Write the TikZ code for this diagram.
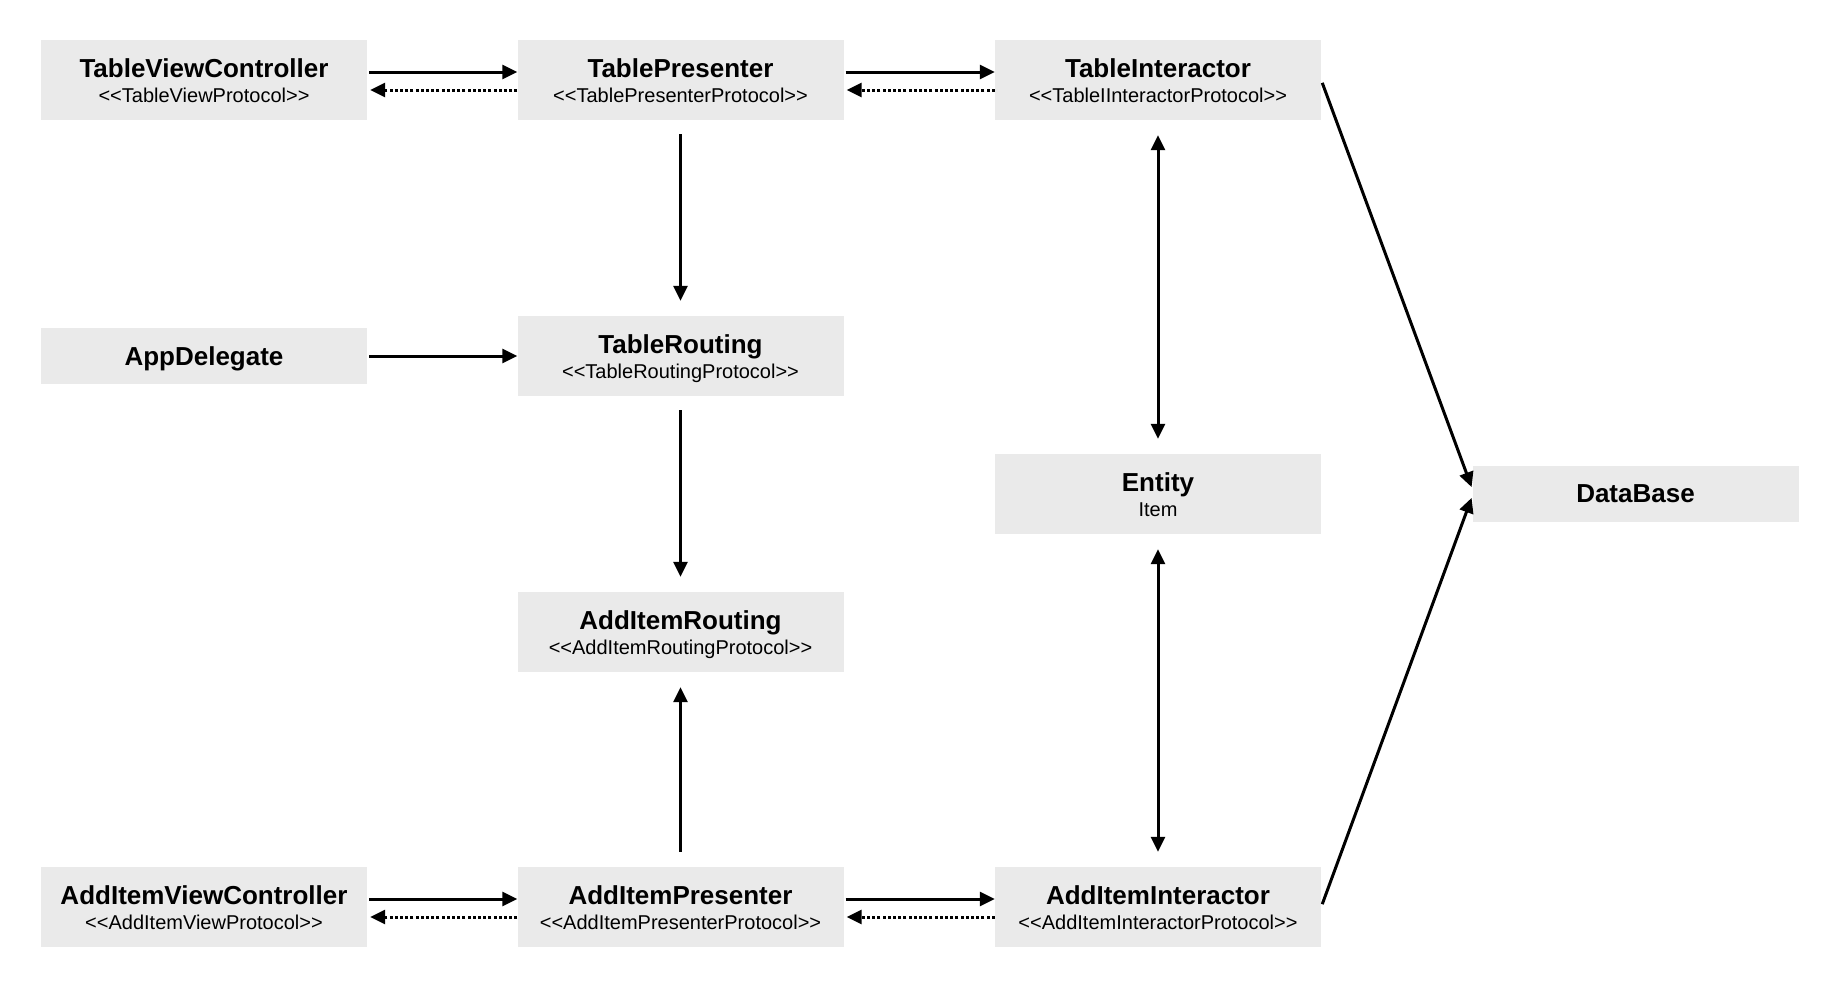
\documentclass[tikz,border=0pt]{standalone}
\usepackage{fontspec}
\setmainfont{Liberation Sans}
\usetikzlibrary{arrows.meta}
\definecolor{boxgray}{HTML}{EAEAEA}
\newcommand{\proto}[1]{<{}<#1>{}>}
\newcommand{\boxtext}[2]{\rule{0pt}{25pt}{\bfseries\fontsize{26}{25}\selectfont #1}\\#2\vphantom{g}}
\tikzset{
	block/.style={fill=boxgray, minimum width=326pt, minimum height=80pt, inner sep=0pt, align=center, font=\fontsize{20}{25}\selectfont},
	flat/.style={block, minimum height=56pt, text depth=0pt, font=\fontsize{26}{25}\selectfont\bfseries},
	link/.style={line width=3pt, -{Triangle[length=15pt,width=14pt]}},
	back/.style={link, dash pattern=on 3pt off 2.2pt},
	both/.style={line width=3pt, {Triangle[length=15pt,width=14pt]}-{Triangle[length=15pt,width=14pt]}, shorten <=15pt, shorten >=15pt}
}
\begin{document}
\begin{tikzpicture}[x=1pt,y=-1pt]
					\useasboundingbox (0,0) rectangle (1846,990);
					\node[block] (tvc) at (204,80) {\boxtext{TableViewController}{\proto{TableViewProtocol}}};
					\node[block] (tp) at (680.5,80) {\boxtext{TablePresenter}{\proto{TablePresenterProtocol}}};
					\node[block] (ti) at (1158,80) {\boxtext{TableInteractor}{\proto{TableIInteractorProtocol}}};
					\node[flat] (app) at (204,356) {AppDelegate};
					\node[block] (tr) at (680.5,356) {\boxtext{TableRouting}{\proto{TableRoutingProtocol}}};
					\node[block] (ent) at (1158,494) {\boxtext{Entity}{Item}};
					\node[flat] (db) at (1635.5,494) {DataBase};
					\node[block] (air) at (680.5,632) {\boxtext{AddItemRouting}{\proto{AddItemRoutingProtocol}}};
					\node[block] (aivc) at (204,907) {\boxtext{AddItemViewController}{\proto{AddItemViewProtocol}}};
					\node[block] (aip) at (680.5,907) {\boxtext{AddItemPresenter}{\proto{AddItemPresenterProtocol}}};
					\node[block] (aii) at (1158,907) {\boxtext{AddItemInteractor}{\proto{AddItemInteractorProtocol}}};
					% top row
					\draw[link, shorten <=2pt] ([yshift=8pt]tvc.east) -- ([yshift=8pt]tp.west);
					\draw[back, shorten >=3pt] ([yshift=-10pt]tp.west) -- ([yshift=-10pt]tvc.east);
					\draw[link, shorten <=2pt] ([yshift=8pt]tp.east) -- ([yshift=8pt]ti.west);
					\draw[back, shorten >=3pt] ([yshift=-10pt]ti.west) -- ([yshift=-10pt]tp.east);
					% bottom row
					\draw[link, shorten <=2pt] ([yshift=8pt]aivc.east) -- ([yshift=8pt]aip.west);
					\draw[back, shorten >=3pt] ([yshift=-10pt]aip.west) -- ([yshift=-10pt]aivc.east);
					\draw[link, shorten <=2pt] ([yshift=8pt]aip.east) -- ([yshift=8pt]aii.west);
					\draw[back, shorten >=3pt] ([yshift=-10pt]aii.west) -- ([yshift=-10pt]aip.east);
					% routing
					\draw[link, shorten <=2pt] (app.east) -- (tr.west);
					\draw[link, shorten <=14pt, shorten >=15pt] (tp.south) -- (tr.north);
					\draw[link, shorten <=14pt, shorten >=15pt] (tr.south) -- (air.north);
					\draw[link, shorten <=15pt, shorten >=15pt] (aip.north) -- (air.south);
					% entity
					\draw[both] (ti.south) -- (ent.north);
					\draw[both] (ent.south) -- (aii.north);
					% database
					\draw[link, shorten <=3pt, shorten >=2pt] (ti.east) -- ([yshift=5pt]db.west);
					\draw[link, shorten <=3pt, shorten >=2pt] (aii.east) -- ([yshift=-2pt]db.west);
				\end{tikzpicture}
\end{document}
